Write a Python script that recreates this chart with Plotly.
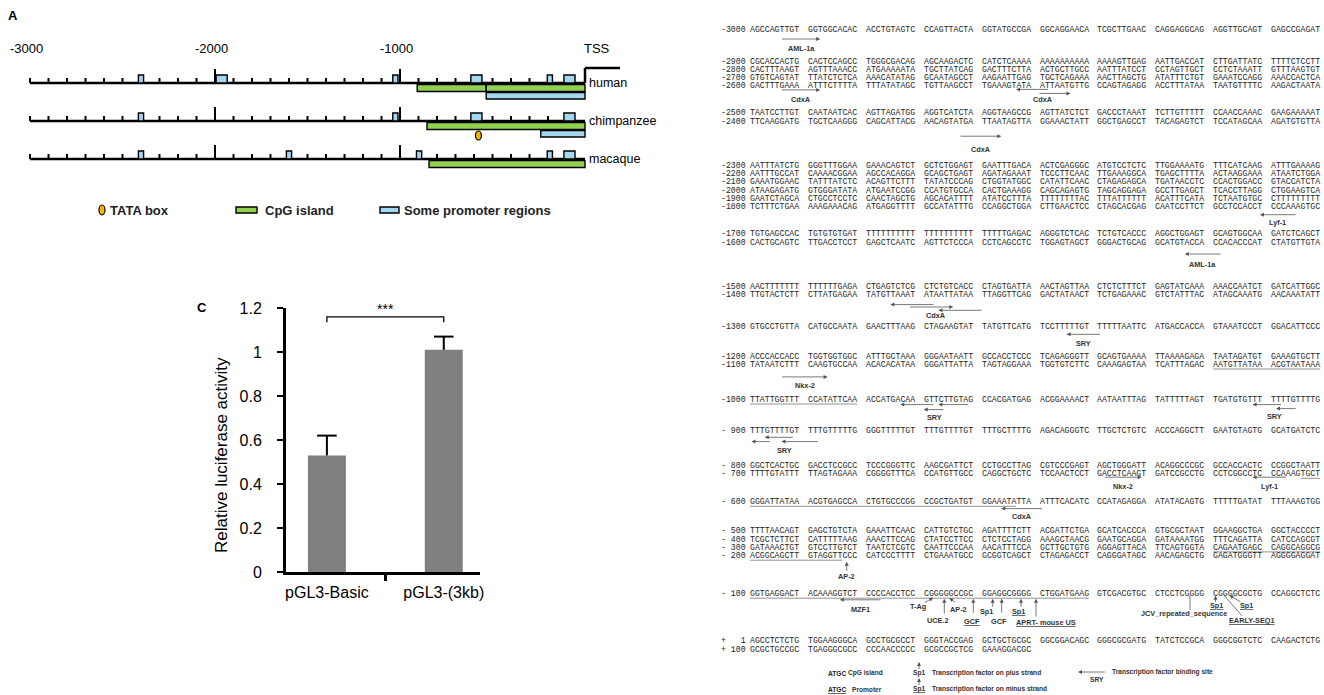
import plotly.graph_objects as go

W, H = 1324, 695
SANS = "Liberation Sans, Arial, sans-serif"
MONO = "Liberation Mono, Courier New, monospace"

# ====================== DATA ======================
# Panel C : luciferase reporter assay
constructs = ["pGL3-Basic", "pGL3-(3kb)"]
luciferase_mean = [0.53, 1.01]
luciferase_err = [0.09, 0.06]
y_tick_vals = [0, 0.2, 0.4, 0.6, 0.8, 1.0, 1.2]
y_tick_text = ["0", "0.2", "0.4", "0.6", "0.8", "1", "1.2"]
significance = "***"

# Panel A : promoter map (-3000 .. TSS, bp)
species = ["human", "chimpanzee", "macaque"]
scale_marks = [-3000, -2000, -1000]
scale_mark_text = ["-3000", "-2000", "-1000"]
major_ticks = [-2000, -1000]
cpg_island = {"human": [(-907, -534), (-534, 0)], "chimpanzee": [(-854, 0)], "macaque": [(-843, 0)]}
promoter_region = {"human": [(-534, 0)], "chimpanzee": [(-239, 0)], "macaque": []}
promoter_box_narrow = {"human": [-2400, -1025, -190], "chimpanzee": [-2400, -1025], "macaque": [-2400, -1600, -897, -190]}
promoter_box_wide = {"human": [-1964, -587, -84], "chimpanzee": [-587, -84], "macaque": [-84]}
tata_box = {"chimpanzee": -576}
legend_a = ["TATA box", "CpG island", "Some promoter regions"]

# Panel B : sequence
seq_labels = ["-3000", "-2900", "-2800", "-2700", "-2600", "-2500", "-2400", "-2300", "-2200", "-2100",
              "-2000", "-1900", "-1800", "-1700", "-1600", "-1500", "-1400", "-1300", "-1200", "-1100",
              "-1000", "- 900", "- 800", "- 700", "- 600", "- 500", "- 400", "- 300", "- 200", "- 100",
              "+   1", "+ 100"]
seq_rows = [
    "AGCCAGTTGT GGTGGCACAC ACCTGTAGTC CCAGTTACTA GGTATGCCGA GGCAGGAACA TCGCTTGAAC CAGGAGGCAG AGGTTGCAGT GAGCCGAGAT",
    "CGCACCACTG CACTCCAGCC TGGGCGACAG AGCAAGACTC CATCTCAAAA AAAAAAAAAA AAAAGTTGAG AATTGACCAT CTTGATTATC TTTTCTCCTT",
    "CACTTTAAGT AGTTTAAACC ATGAAAAATA TGCTTATCAG GACTTTCTTA ACTGCTTGCC AATTTATCCT CCTAGTTGCT CCTCTAAATT GTTTAAGTGT",
    "GTGTCAGTAT TTATCTCTCA AAACATATAG GCAATAGCCT AAGAATTGAG TGCTCAGAAA AACTTAGCTG ATATTTCTGT GAAATCCAGG AAACCACTCA",
    "GACTTTGAAA ATTTCTTTTA TTTATATAGC TGTTAAGCCT TGAAAGTATA ATTAATGTTG CCAGTAGAGG ACCTTTATAA TAATGTTTTC AAGACTAATA",
    "TAATCCTTGT CAATAATCAC AGTTAGATGG AGGTCATCTA AGGTAAGCCG AGTTATCTCT GACCCTAAAT TCTTGTTTTT CCAACCAAAC GAAGAAAAAT",
    "TTCAAGGATG TGCTCAAGGG CAGCATTACG AACAGTATGA TTAATAGTTA GGAAACTATT GGCTGAGCCT TACAGAGTCT TCCATAGCAA AGATGTGTTA",
    "AATTTATCTG GGGTTTGGAA GAAACAGTCT GCTCTGGAGT GAATTTGACA ACTCGAGGGC ATGTCCTCTC TTGGAAAATG TTTCATCAAG ATTTGAAAAG",
    "AATTTGCCAT CAAAACGGAA AGCCACAGGA GCAGCTGAGT AGATAGAAAT TCCCTTCAAC TTGAAAGGCA TGAGCTTTTA ACTAAGGAAA ATAATCTGGA",
    "GAAATGGAAC TATTTATCTC ACAGTTCTTT TATATCCCAG CTGGTATGGC CATATTCAAC CTAGAGAGCA TGATAACCTC CCACTGGACC GTACCATCTA",
    "ATAAGAGATG GTGGGATATA ATGAATCCGG CCATGTGCCA CACTGAAAGG CAGCAGAGTG TAGCAGGAGA GCCTTGAGCT TCACCTTAGG CTGGAAGTCA",
    "GAATCTAGCA CTGCCTCCTC CAACTAGCTG AGCACATTTT ATATCCTTTA TTTTTTTTAC TTTATTTTTT ACATTTCATA TCTAATGTGC CTTTTTTTTT",
    "TCTTTCTGAA AAAGAAACAG ATGAGGTTTT GCCATATTTG CCAGGCTGGA CTTGAACTCC CTAGCACGAG CAATCCTTCT GCCTCCACCT CCCAAAGTGC",
    "TGTGAGCCAC TGTGTGTGAT TTTTTTTTTT TTTTTTTTTT TTTTTGAGAC AGGGTCTCAC TCTGTCACCC AGGCTGGAGT GCAGTGGCAA GATCTCAGCT",
    "CACTGCAGTC TTGACCTCCT GAGCTCAATC AGTTCTCCCA CCTCAGCCTC TGGAGTAGCT GGGACTGCAG GCATGTACCA CCACACCCAT CTATGTTGTA",
    "AACTTTTTTT TTTTTTGAGA CTGAGTCTCG CTCTGTCACC CTAGTGATTA AACTAGTTAA CTCTCTTTCT GAGTATCAAA AAACCAATCT GATCATTGGC",
    "TTGTACTCTT CTTATGAGAA TATGTTAAAT ATAATTATAA TTAGGTTCAG GACTATAACT TCTGAGAAAC GTCTATTTAC ATAGCAAATG AACAAATATT",
    "GTGCCTGTTA CATGCCAATA GAACTTTAAG CTAGAAGTAT TATGTTCATG TCCTTTTTGT TTTTTAATTC ATGACCACCA GTAAATCCCT GGACATTCCC",
    "ACCCACCACC TGGTGGTGGC ATTTGCTAAA GGGAATAATT GCCACCTCCC TCAGAGGGTT GCAGTGAAAA TTAAAAGAGA TAATAGATGT GAAAGTGCTT",
    "TATAATCTTT CAAGTGCCAA ACACACATAA GGGATTATTA TAGTAGGAAA TGGTGTCTTC CAAAGAGTAA TCATTTAGAC AATGTTATAA ACGTAATAAA",
    "TTATTGGTTT CCATATTCAA ACCATGACAA GTTCTTGTAG CCACGATGAG ACGGAAAACT AATAATTTAG TATTTTTAGT TGATGTGTTT TTTTGTTTTG",
    "TTTGTTTTGT TTTGTTTTTG GGGTTTTTGT TTTGTTTTGT TTTGCTTTTG AGACAGGGTC TTGCTCTGTC ACCCAGGCTT GAATGTAGTG GCATGATCTC",
    "GGCTCACTGC GACCTCCGCC TCCCGGGTTC AAGCGATTCT CCTGCCTTAG CGTCCCGAGT AGCTGGGATT ACAGGCCCGC GCCACCACTC CCGGCTAATT",
    "TTTTGTATTT TTAGTAGAAA CGGGGTTTCA CCATGTTGCC CAGGCTGCTC TCCAACTCCT GACCTCAAGT GATCCGCCTG CCTCGGCCTC CCAAAGTGCT",
    "GGGATTATAA ACGTGAGCCA CTGTGCCCGG CCGCTGATGT GGAAATATTA ATTTCACATC CCATAGAGGA ATATACAGTG TTTTTGATAT TTTAAAGTGG",
    "TTTTAACAGT GAGCTGTCTA GAAATTCAAC CATTGTCTGC AGATTTTCTT ACGATTCTGA GCATCACCCA GTGCGCTAAT GGAAGGCTGA GGCTACCCCT",
    "TCGCTCTTCT CATTTTTAAG AAACTTCCAG CTATCCTTCC CTCTCCTAGG AAAGCTAACG GAATGCAGGA GATAAAATGG TTTCAGATTA CATCCAGCGT",
    "GATAAACTGT GTCCTTGTCT TAATCTCGTC CAATTCCCAA AACATTTCCA GCTTGCTGTG AGGAGTTACA TTCAGTGGTA CAGAATGAGC CAGGCAGGCG",
    "ACGGCAGCTT GTAGGTTCCC CATCCCTTTT CTGAAATGCC GCGGTCAGCT CTAGAGACCT CAGGGATAGC AACAGAGCTG GAGATGGGTT AGGGGAGGAT",
    "GGTGAGGACT ACAAAGGTCT CCCCACCTCC CGGGGGCCGC GGAGGCGGGG CTGGATGAAG GTCGACGTGC CTCCTCGGGG CGGGGCGCTG CCAGGCTCTC",
    "AGCCTCTCTG TGGAAGGGCA GCCTGCGCCT GGGTACCGAG GCTGCTGCGC GGCGGACAGC GGGCGCGATG TATCTCCGCA GGGCGGTCTC CAAGACTCTG",
    "GCGCTGCCGC TGAGGGCGCC CCCAACCCCC GCGCCGCTCG GAAAGGACGC",
]
# promoter (underlined) stretches: row, start, end (bp within row)
promoter_underline = [("-1100", 80, 100), ("-1000", 0, 20), ("- 700", 96, 100), ("- 600", 0, 47),
                      ("- 300", 80, 100), ("- 200", 0, 17), ("- 100", 0, 60)]
# transcription-factor binding sites drawn as horizontal arrows: name, row, [(start, end, strand)]
tf_sites = [
    ("AML-1a", "-3000", [(6.5, 12.5, "+")]),
    ("CdxA", "-2600", [(6.5, 12.5, "+")]),
    ("CdxA", "-2600", [(47, 51.7, "-"), (50, 56.3, "+")]),
    ("CdxA", "-2400", [(37.5, 44, "+")]),
    ("Lyf-1", "-1800", [(89.5, 95, "-")]),
    ("AML-1a", "-1600", [(76, 81.5, "-")]),
    ("CdxA", "-1400", [(25, 32, "-"), (29, 36, "+"), (33, 40, "-")]),
    ("SRY", "-1300", [(55.5, 60.5, "-")]),
    ("Nkx-2", "-1100", [(6.5, 14, "+")]),
    ("SRY", "-1000", [(27, 32, "-"), (33, 39, "-"), (30, 34, "-")]),
    ("SRY", "-1000", [(88, 92, "-"), (91, 95, "-")]),
    ("SRY", "- 900", [(3, 8.7, "-"), (0.3, 4, "-"), (6.4, 12, "-")]),
    ("Nkx-2", "- 700", [(61.5, 69, "+")]),
    ("Lyf-1", "- 700", [(88, 93, "-")]),
    ("CdxA", "- 600", [(44, 50.5, "-")]),
    ("MZF1", "- 100", [(16.5, 23, "-")]),
]
# single-point sites near the TSS: name, row, underlined (minus strand)
point_sites = [("AP-2", "- 200", False), ("T-Ag", "- 100", False), ("UCE.2", "- 100", False),
               ("AP-2", "- 100", False), ("GCF", "- 100", True), ("Sp1", "- 100", False),
               ("GCF", "- 100", False), ("Sp1", "- 100", True), ("APRT- mouse US", "- 100", True),
               ("JCV_repeated_sequence", "- 100", False), ("Sp1", "- 100", True), ("Sp1", "- 100", True),
               ("EARLY-SEQ1", "- 100", True)]

# ====================== LAYOUT HELPERS ======================
ann, shapes = [], []


def text(x, y, s, size, color="#222", family=SANS, xanchor="left", yanchor="middle",
         under=False, angle=0, xref="x3", yref="y3", xshift=0):
    f = dict(size=size, color=color, family=family)
    if under:
        f["lineposition"] = "under"
    ann.append(dict(x=x, y=y, xref=xref, yref=yref, text=s, showarrow=False, xanchor=xanchor,
                    yanchor=yanchor, font=f, textangle=angle, borderpad=0, borderwidth=0, xshift=xshift))


def arrow(hx, hy, tx, ty, color="#555", width=0.8, head=2, size=1.0):
    ann.append(dict(x=hx, y=hy, xref="x3", yref="y3", ax=tx - hx, ay=ty - hy, axref="pixel",
                    ayref="pixel", text="", showarrow=True, arrowhead=head, arrowsize=size,
                    arrowwidth=width, arrowcolor=color, borderpad=0, borderwidth=0))


def line(x0, y0, x1, y1, color="black", width=1.0, xref="x3", yref="y3"):
    shapes.append(dict(type="line", x0=x0, y0=y0, x1=x1, y1=y1, xref=xref, yref=yref,
                       line=dict(color=color, width=width)))


def rect(x0, y0, x1, y1, fill, lw=1.4, xref="x3", yref="y3", kind="rect"):
    shapes.append(dict(type=kind, x0=x0, y0=y0, x1=x1, y1=y1, xref=xref, yref=yref,
                       fillcolor=fill, line=dict(color="black", width=lw)))


GREEN, BLUE, YELLOW = "#92d050", "#a3d7f0", "#f2b705"

# ====================== PANEL A ======================
TSS_PX, PX_PER_BP = 585.0, 0.185
row_y = {"human": 83, "chimpanzee": 121, "macaque": 159}
text(8, 15, "<b>A</b>", 13, color="black")
for bp, lab in zip(scale_marks, scale_mark_text):
    text(bp, 48, lab, 13, color="black", xanchor="center", xref="x2", yref="y2", xshift=-4)
text(584, 48, "TSS", 13, color="black")
for sp in species:
    y = row_y[sp]
    for a, b in cpg_island[sp]:
        rect(a, y + 1.5, b, y + 8.5, GREEN, xref="x2", yref="y2")
    for a, b in promoter_region[sp]:
        rect(a, y + 9.5, b, y + 16, BLUE, xref="x2", yref="y2")
    line(-3000, y, 0, y, width=2.5, xref="x2", yref="y2")
    for t in range(-3000, 0, 100):
        h = 14 if t in major_ticks else 5
        line(t, y, t, y - h, width=2, xref="x2", yref="y2")
    for c in promoter_box_narrow[sp]:
        rect(c - 14, y - 8, c + 14, y, BLUE, xref="x2", yref="y2")
    for c in promoter_box_wide[sp]:
        rect(c - 30, y - 8, c + 30, y, BLUE, xref="x2", yref="y2")
    if sp in tata_box:
        c = tata_box[sp]
        rect(c - 16, y + 10, c + 16, y + 19, YELLOW, lw=1.2, xref="x2", yref="y2", kind="circle")
    text(589, y, sp, 12.5, color="black")
hy = row_y["human"]
line(0, hy, 0, hy - 15, width=2.5, xref="x2", yref="y2")
line(0, hy - 15, (620 - TSS_PX) / PX_PER_BP, hy - 15, width=2.5, xref="x2", yref="y2")
# legend
rect(99, 205, 105, 215, YELLOW, lw=1.2, kind="circle")
text(110, 210, "<b>" + legend_a[0] + "</b>", 13)
rect(236, 207, 257, 213, GREEN)
text(265, 210, "<b>" + legend_a[1] + "</b>", 13)
rect(380, 207, 399, 213, BLUE)
text(404, 210, "<b>" + legend_a[2] + "</b>", 13)

# ====================== PANEL C ======================
text(197, 307, "<b>C</b>", 13, color="black")
text(221, 455, "Relative luciferase activity", 17, color="black", xanchor="center", angle=-90)

# ====================== PANEL B ======================
SEQ_X0, GROUP_DX, CHAR_DX = 750.0, 57.9, 4.92
SEQ_FONT = 8.2
LINE_DY = 8.3
row_gap = {"-3000": 32, "-2600": 27, "-2400": 44, "-1800": 27, "-1600": 44, "-1400": 32,
           "-1300": 30, "-1100": 35, "-1000": 31, "- 900": 35, "- 700": 28, "- 600": 29,
           "- 200": 38, "- 100": 47}
ROW_Y0 = 29
ry = {}
yy = ROW_Y0
for lab in seq_labels:
    ry[lab] = yy
    yy += row_gap.get(lab, LINE_DY)


def sx(pos):
    g = min(int(pos // 10), 9)
    return SEQ_X0 + GROUP_DX * g + CHAR_DX * (pos - 10 * g)


def sx_end(pos):
    return sx(pos - 1e-6)


SEQ_COLOR = "#1e1e1e"
for lab, row in zip(seq_labels, seq_rows):
    y = ry[lab]
    text(746, y, lab.replace(" ", "\u00a0"), SEQ_FONT, color=SEQ_COLOR, family=MONO, xanchor="right")
    for g, grp in enumerate(row.split(" ")):
        text(SEQ_X0 + GROUP_DX * g, y, grp, SEQ_FONT, color=SEQ_COLOR, family=MONO)

for lab, a, b in promoter_underline:
    y = ry[lab] + 4.4
    line(sx(a), y, sx_end(b), y, color="#777", width=0.8)

tf_layout = [([10], 19), ([4], 14), ([3.5, 7.5], 14), ([15], 28), ([8], 16), ([12], 22),
             ([10.3, 12.7, 16], 21), ([8], 17), ([12.3], 21), ([5, 5, 10], 18), ([5, 9], 17),
             ([6.7, 11, 11], 20), ([3.3], 12.3), ([3.3], 12.3), ([6.7], 15), ([6], 16)]
TF_FONT = 7.3
for (name, row, arrows), (dys, ldy) in zip(tf_sites, tf_layout):
    y0 = ry[row]
    xs = []
    for (a, b, strand), dy in zip(arrows, dys):
        xa, xb = sx(a), sx(b)
        xs += [xa, xb]
        if strand == "+":
            arrow(xb, y0 + dy, xa, y0 + dy)
        else:
            arrow(xa, y0 + dy, xb, y0 + dy)
    text((min(xs) + max(xs)) / 2, y0 + ldy, "<b>" + name + "</b>", TF_FONT, color="#333", xanchor="center")

point_layout = [
    (846.7, 6, 846.7, 15, 846.7, 21, True),
    (933.3, 4, 925.0, 8.5, 918.3, 12.7, True),
    (944.3, 5, 944.3, 20, 938.3, 26.7, True),
    (949.3, 4.3, 955.0, 8.5, 958.3, 15.3, True),
    (973.3, 5, 973.3, 19, 971.7, 27.3, True),
    (992.7, 5, 992.7, 13, 986.7, 17.3, True),
    (1001.7, 5, 1001.7, 19, 999.3, 27.3, True),
    (1021.0, 5, 1021.0, 13, 1018.3, 17.3, True),
    (1036.0, 5, 1036.0, 22.7, 1046.0, 28.3, True),
    (1190.0, 1.5, 1190.0, 16, 1184.0, 20, False),
    (1215.5, 2, 1215.5, 8, 1216.0, 12, True),
    (1229.5, 1.5, 1240.4, 8, 1246.0, 12, True),
    (1224.0, 1.5, 1242.0, 22, 1252.0, 27, False),
]
for (name, row, minus), (hx, hdy, tx, tdy, lx, ldy, head) in zip(point_sites, point_layout):
    y0 = ry[row]
    if head:
        arrow(hx, y0 + hdy, tx, y0 + tdy)
    else:
        line(hx, y0 + hdy, tx, y0 + tdy, color="#555", width=0.8)
    text(lx, y0 + ldy, "<b>" + name + "</b>", TF_FONT, color="#333", xanchor="center", under=minus)

LG = 6.6
text(828, 673, "<b>ATGC</b>", LG, color="#222")
text(848, 673, "<b>CpG island</b>", LG, color="#333")
text(828, 689, "<b>ATGC</b>", LG, color="#222", under=True)
text(852, 689, "<b>Promoter</b>", LG, color="#333")
arrow(919, 662, 919, 669)
text(919, 673, "<b>Sp1</b>", LG, color="#333", xanchor="center")
text(932, 673, "<b>Transcription factor on plus strand</b>", LG, color="#333")
arrow(919, 678, 919, 685)
text(919, 689, "<b>Sp1</b>", LG, color="#333", xanchor="center", under=True)
text(932, 689, "<b>Transcription factor on minus strand</b>", LG, color="#333")
arrow(1078, 672, 1105, 672)
text(1097, 679, "<b>SRY</b>", LG, color="#333", xanchor="center")
text(1112, 672, "<b>Transcription factor binding site</b>", LG, color="#333")

# ====================== FIGURE ======================
fig = go.Figure()
fig.add_trace(go.Bar(x=constructs, y=luciferase_mean, width=0.325,
                     marker=dict(color="#808080", line=dict(width=0)), hoverinfo="skip"))
wx, wy = [], []
for c, m, e in zip(constructs, luciferase_mean, luciferase_err):
    wx += [c, c, None]
    wy += [m, m + e, None]
fig.add_trace(go.Scatter(x=wx, y=wy, mode="lines", line=dict(color="black", width=2),
                         cliponaxis=False, hoverinfo="skip"))
fig.add_trace(go.Scatter(x=constructs, y=[m + e for m, e in zip(luciferase_mean, luciferase_err)],
                         mode="markers", cliponaxis=False, hoverinfo="skip",
                         marker=dict(symbol="line-ew", size=14, color="black",
                                     line=dict(color="black", width=2))))
BR_TOP, BR_FOOT = 1.16, 1.135
fig.add_trace(go.Scatter(x=[constructs[0], constructs[0], constructs[1], constructs[1]],
                         y=[BR_FOOT, BR_TOP, BR_TOP, BR_FOOT], mode="lines",
                         line=dict(color="black", width=1.3), cliponaxis=False, hoverinfo="skip"))
ann.append(dict(x=0.5, y=BR_TOP, xref="x", yref="y", text=significance, showarrow=False,
                yanchor="bottom", font=dict(size=14, color="black", family=SANS), yshift=-2))
fig.add_trace(go.Scatter(x=[None], y=[None], xaxis="x2", yaxis="y2"))
fig.add_trace(go.Scatter(x=[None], y=[None], xaxis="x3", yaxis="y3"))

hidden = dict(visible=False, automargin=False, showgrid=False, zeroline=False)
fig.update_layout(
    width=W, height=H, margin=dict(l=0, r=0, t=0, b=0, pad=0, autoexpand=False), autosize=False,
    paper_bgcolor="white", plot_bgcolor="rgba(0,0,0,0)", showlegend=False, hovermode=False,
    xaxis=dict(domain=[286 / W, 480 / W], type="category", range=[-0.35, 1.31],
               showline=True, linewidth=3, linecolor="black", ticks="outside",
               tickson="boundaries", ticklen=6, tickwidth=3, tickcolor="black",
               tickfont=dict(size=16, family=SANS, color="black"), showgrid=False,
               zeroline=False, anchor="y", ticklabelstandoff=4, automargin=False),
    yaxis=dict(domain=[1 - 572 / H, 1 - 308 / H], range=[0, 1.2], showline=True, linewidth=3,
               linecolor="black", ticks="outside", ticklen=6, tickwidth=2.5, tickcolor="black",
               tickvals=y_tick_vals, ticktext=y_tick_text,
               tickfont=dict(size=16, family=SANS, color="black"), showgrid=False,
               zeroline=False, anchor="x", ticklabelstandoff=12, automargin=False),
    xaxis2=dict(domain=[0, 620 / W], range=[(0 - TSS_PX) / PX_PER_BP, (620 - TSS_PX) / PX_PER_BP],
                anchor="y2", **hidden),
    yaxis2=dict(domain=[0, 1], range=[H, 0], anchor="x2", **hidden),
    xaxis3=dict(domain=[0, 1], range=[0, W], anchor="y3", **hidden),
    yaxis3=dict(domain=[0, 1], range=[H, 0], anchor="x3", **hidden),
    annotations=ann, shapes=shapes,
)
fig.write_html("out.html", config={"displayModeBar": False, "staticPlot": True},
               post_script="document.body.style.margin='0px';document.body.style.overflow='hidden';")
